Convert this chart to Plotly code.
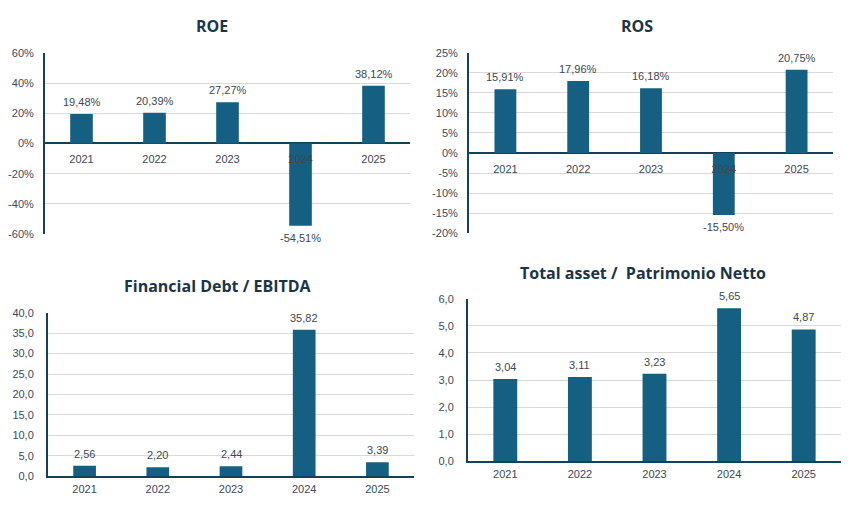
import plotly.graph_objects as go
from plotly.subplots import make_subplots

years = ["2021", "2022", "2023", "2024", "2025"]

roe = [19.48, 20.39, 27.27, -54.51, 38.12]
ros = [15.91, 17.96, 16.18, -15.50, 20.75]
debt_ebitda = [2.56, 2.20, 2.44, 35.82, 3.39]
asset_pn = [3.04, 3.11, 3.23, 5.65, 4.87]

roe_ticks = [60, 40, 20, 0, -20, -40, -60]
ros_ticks = [25, 20, 15, 10, 5, 0, -5, -10, -15, -20]
debt_ticks = [0, 5, 10, 15, 20, 25, 30, 35, 40]
asset_ticks = [0, 1, 2, 3, 4, 5, 6]

titles = ["ROE", "ROS", "Financial Debt / EBITDA", "Total asset /  Patrimonio Netto"]

BAR = "#156082"
AXIS = "#12425a"
GRID = "#d9d9d9"
TXT = "#3d4656"
TICK = "#3a4a60"
TITLE = "#1b3447"
FONT = "Liberation Sans"

W, H, TOP = 857, 510, 4   # visible page area


def px(x):
    return x / W


def py(y):
    return 1 - (y - TOP) / H


def it(v, pct):
    s = f"{v:.2f}".replace(".", ",")
    return s + "%" if pct else s


fig = make_subplots(rows=2, cols=2)

series = [(roe, True, 0.31), (ros, True, 0.30), (debt_ebitda, False, 0.31), (asset_pn, False, 0.32)]
pos = [(1, 1), (1, 2), (2, 1), (2, 2)]
for k, ((vals, pct, w), (r, c)) in enumerate(zip(series, pos)):
    fig.add_trace(go.Bar(
        x=years, y=vals, width=w,
        marker=dict(color=BAR, line=dict(width=0)),
        showlegend=False,
    ), row=r, col=c)
    n = "" if k == 0 else str(k + 1)
    # value labels
    for j, v in enumerate(vals):
        fig.add_annotation(
            x=j, y=v, xref="x" + n, yref="y" + n, text=it(v, pct),
            showarrow=False, yanchor="bottom" if v >= 0 else "top",
            yshift=4 if v >= 0 else -4,
            font=dict(size=11, color=TXT, family=FONT),
        )

# panel boxes in pixels: (left, right, top, bottom)
boxes = [(45, 410, 51, 233), (469, 833, 51, 232), (48, 414, 312, 476), (468, 841, 298, 461)]
ticks = [roe_ticks, ros_ticks, debt_ticks, asset_ticks]
ranges = [[-60, 60], [-20, 25], [0, 40], [0, 6]]

for i in range(4):
    n = "" if i == 0 else str(i + 1)
    tv = ticks[i]
    if i < 2:
        tt = [f"{v}%" for v in tv]
    else:
        tt = [f"{v:.1f}".replace(".", ",") for v in tv]
    l, r_, t, b = boxes[i]
    d0, d1 = py(b), py(t)
    r0, r1 = ranges[i]
    xa = dict(
        domain=[px(l), px(r_)],
        type="category",
        range=[-0.5, 4.5],
        showgrid=False,
        zeroline=False,
        showline=(i >= 2),
        linecolor=AXIS, linewidth=2,
        tickfont=dict(size=11, color=TXT, family=FONT),
        ticks="",
        ticklabelstandoff=2,
    )
    if i < 2:
        # category labels hang from the zero line
        xa.update(anchor="free", position=d0 + (0 - r0) / (r1 - r0) * (d1 - d0),
                  ticklabelstandoff=8)
    fig.layout["xaxis" + n].update(xa)
    fig.layout["yaxis" + n].update(
        domain=[d0, d1],
        range=ranges[i],
        tickvals=tv, ticktext=tt,
        showgrid=True, gridcolor=GRID, gridwidth=1,
        zeroline=(i < 2), zerolinecolor=AXIS, zerolinewidth=2,
        showline=True, linecolor=AXIS, linewidth=2,
        tickfont=dict(size=11, color=TICK, family=FONT),
        ticks="",
        ticklabelstandoff=7 if i < 2 else 10,
    )

title_pos = [(212, 24), (637, 24), (218, 285), (643, 272)]
for t, (tx, ty) in zip(titles, title_pos):
    fig.add_annotation(
        x=px(tx), y=py(ty), xref="paper", yref="paper", text=f"<b>{t}</b>",
        showarrow=False, xanchor="center", yanchor="middle",
        font=dict(size=16, color=TITLE, family="Open Sans"),
    )

fig.update_layout(
    autosize=True,
    margin=dict(l=0, r=0, t=0, b=0),
    plot_bgcolor="white", paper_bgcolor="white",
)

fill_page = """
var h = document.documentElement, b = document.body;
[h, b].forEach(function (e) { e.style.margin = '0'; e.style.height = '100%'; e.style.overflow = 'hidden'; });
var gd = document.getElementById('{plot_id}');
gd.parentElement.style.height = '100%';
gd.style.height = '100%'; gd.style.width = '100%';
Plotly.Plots.resize(gd);
"""

fig.write_html("out.html", config={"displayModeBar": False}, post_script=fill_page)
